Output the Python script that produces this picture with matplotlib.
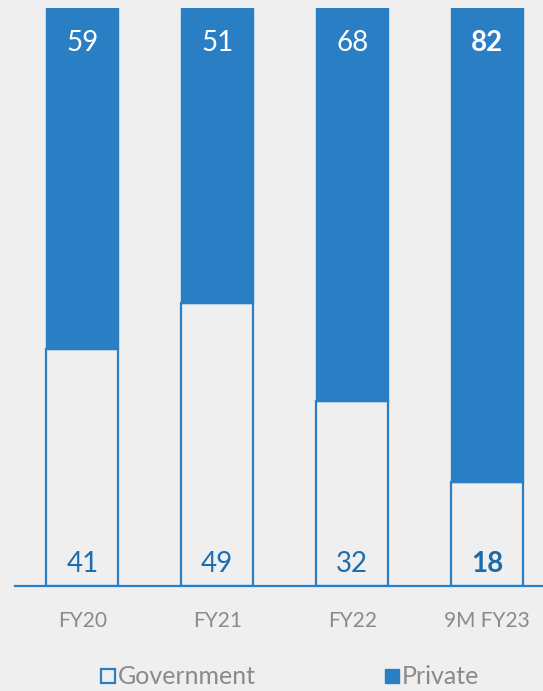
import matplotlib.pyplot as plt
from matplotlib.lines import Line2D
import numpy as np

# share of orders by customer type, percent
periods = ["FY20", "FY21", "FY22", "9M FY23"]
government = [41, 49, 32, 18]
private = [59, 51, 68, 82]
bold_last = True

blue = "#2A7EC4"
label_blue = "#1F6DAE"
bg = "#EFEFEF"
grey = "#8A8A8A"

plt.rcParams['font.family'] = ['Lato', 'DejaVu Sans']

fig = plt.figure(figsize=(5.43, 6.91), dpi=100, facecolor=bg)
ax = fig.add_axes([15 / 543, 105 / 691, 528 / 543, 578 / 691])
ax.set_facecolor(bg)

x = np.arange(len(periods))
width = 0.533
ax.bar(x, government, width, color=bg, edgecolor=blue, linewidth=1.6, zorder=2)
ax.bar(x, private, width, bottom=government, color=blue, edgecolor=blue, linewidth=1.0, zorder=2)

for i in range(len(periods)):
    weight = "bold" if (bold_last and i == len(periods) - 1) else "normal"
    ax.text(x[i], 100 - 6.0, str(private[i]), ha="center", va="center",
            color="white", fontsize=20, fontweight=weight)
    ax.text(x[i], 3.8, str(government[i]), ha="center", va="center",
            color=label_blue if weight == "normal" else "#1D6AA8", fontsize=20, fontweight=weight)

ax.set_xlim(-0.5, 3.415)
ax.set_ylim(0, 100)
for s in ["top", "right", "left"]:
    ax.spines[s].set_visible(False)
ax.spines["bottom"].set_color(blue)
ax.spines["bottom"].set_linewidth(1.6)
ax.set_yticks([])
ax.set_xticks(x)
ax.set_xticklabels(periods, color=grey, fontsize=15)
ax.tick_params(axis="x", length=0, pad=18)

# square markers as legend keys
handles = [Line2D([], [], linestyle="none", marker="s", markersize=10,
                  markerfacecolor=bg, markeredgecolor=blue, markeredgewidth=1.6, label="Government"),
           Line2D([], [], linestyle="none", marker="s", markersize=10.5,
                  markerfacecolor=blue, markeredgecolor=blue, label="Private")]
leg = fig.legend(handles=handles, loc="center", bbox_to_anchor=(0.535, 14 / 691),
                 ncol=2, frameon=False, fontsize=18, handlelength=0.5,
                 handletextpad=0.15, columnspacing=5.2)
for t in leg.get_texts():
    t.set_color(grey)

fig.savefig("out.png", dpi=100, facecolor=bg)
